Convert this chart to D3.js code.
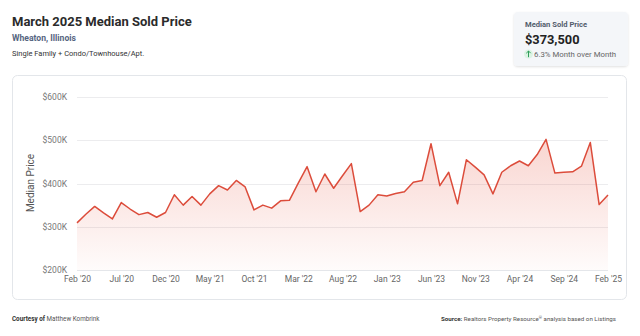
<!DOCTYPE html>
<html>
<head>
<meta charset="utf-8">
<script src="https://cdn.jsdelivr.net/npm/d3@7"></script>
<style>
  html, body { margin: 0; padding: 0; background: #fff; }
  svg { display: block; font-family: Roboto, "Noto Sans", sans-serif; }
</style>
</head>
<body>
<svg id="chart" width="640" height="336"></svg>
<script>
// Monthly median sold price, Wheaton IL (thousands of dollars)
const months = [
  "Feb '20","Mar '20","Apr '20","May '20","Jun '20","Jul '20","Aug '20","Sep '20","Oct '20","Nov '20",
  "Dec '20","Jan '21","Feb '21","Mar '21","Apr '21","May '21","Jun '21","Jul '21","Aug '21","Sep '21",
  "Oct '21","Nov '21","Dec '21","Jan '22","Feb '22","Mar '22","Apr '22","May '22","Jun '22","Jul '22",
  "Aug '22","Sep '22","Oct '22","Nov '22","Dec '22","Jan '23","Feb '23","Mar '23","Apr '23","May '23",
  "Jun '23","Jul '23","Aug '23","Sep '23","Oct '23","Nov '23","Dec '23","Jan '24","Feb '24","Mar '24",
  "Apr '24","May '24","Jun '24","Jul '24","Aug '24","Sep '24","Oct '24","Nov '24","Dec '24","Jan '25",
  "Feb '25"
];
const medianPrice = [
  309, 329, 347, 332, 318, 356, 341, 328, 333, 322,
  333, 374, 350, 370, 350, 376, 395, 385, 407, 392,
  339, 350, 343, 360, 361, 401, 439, 381, 422, 389,
  418, 446, 335, 350, 374, 371, 377, 381, 403, 407,
  492, 395, 426, 353, 455, 438, 420, 376, 426, 441,
  452, 441, 467, 502, 424, 426, 427, 440, 495, 351.4,
  373.5
];
const xTickLabels = ["Feb '20","Jul '20","Dec '20","May '21","Oct '21","Mar '22","Aug '22",
                     "Jan '23","Jun '23","Nov '23","Apr '24","Sep '24","Feb '25"];
const yTicks = [200, 300, 400, 500, 600];

const svg = d3.select("#chart");

// ---- header ----
svg.append("text").attr("x", 12).attr("y", 26)
  .attr("font-size", 13).attr("font-weight", 700).attr("fill", "#2b2b2b")
  .text("March 2025 Median Sold Price");
svg.append("text").attr("x", 12).attr("y", 41)
  .attr("font-size", 8.6).attr("font-weight", 700).attr("fill", "#56657f")
  .text("Wheaton, Illinois");
svg.append("text").attr("x", 12).attr("y", 55.5)
  .attr("font-size", 7.5).attr("fill", "#333")
  .text("Single Family + Condo/Townhouse/Apt.");

// ---- KPI card ----
const defs = svg.append("defs");
const shadow = defs.append("filter").attr("id", "kpiShadow")
  .attr("x", "-10%").attr("y", "-20%").attr("width", "120%").attr("height", "150%");
shadow.append("feDropShadow").attr("dx", 0).attr("dy", 1).attr("stdDeviation", 1.2)
  .attr("flood-color", "#000").attr("flood-opacity", 0.12);

const kpi = svg.append("g");
kpi.append("rect").attr("x", 514).attr("y", 12).attr("width", 114).attr("height", 54)
  .attr("rx", 4).attr("fill", "#f4f6f9").attr("filter", "url(#kpiShadow)");
kpi.append("text").attr("x", 525).attr("y", 27)
  .attr("font-size", 7.6).attr("font-weight", 700).attr("fill", "#525c6c")
  .text("Median Sold Price");
kpi.append("text").attr("x", 525).attr("y", 43.5)
  .attr("font-size", 12.8).attr("font-weight", 700).attr("fill", "#222")
  .text("$373,500");
kpi.append("circle").attr("cx", 528.5).attr("cy", 54).attr("r", 4.5).attr("fill", "#dcf3e4");
kpi.append("path").attr("d", "M528.5,57.2 L528.5,51 M526.3,53.2 L528.5,51 L530.7,53.2")
  .attr("stroke", "#2f9e5a").attr("stroke-width", 1).attr("fill", "none");
kpi.append("text").attr("x", 534).attr("y", 57)
  .attr("font-size", 7.8).attr("fill", "#666")
  .text("6.3% Month over Month");

// ---- chart card ----
svg.append("rect").attr("x", 12.5).attr("y", 75.5).attr("width", 614).attr("height", 224)
  .attr("rx", 5).attr("fill", "#fff").attr("stroke", "#e3e6ea");

// ---- scales ----
const plotLeft = 77, plotRight = 608, plotTop = 97, plotBottom = 270;
const x = d3.scalePoint().domain(months).range([plotLeft, plotRight]);
const y = d3.scaleLinear().domain([200, 600]).range([plotBottom, plotTop]);

// gridlines
svg.append("g").selectAll("line").data(yTicks).join("line")
  .attr("x1", plotLeft).attr("x2", plotRight)
  .attr("y1", d => Math.round(y(d)) + 0.5).attr("y2", d => Math.round(y(d)) + 0.5)
  .attr("stroke", d => d === 200 ? "#e4e6ea" : "#ececee").attr("stroke-width", 1);

// y axis labels
const yAxis = d3.axisLeft(y).tickValues(yTicks).tickSize(0).tickPadding(0)
  .tickFormat(d => "$" + d + "K");
svg.append("g").attr("transform", `translate(67,0)`).call(yAxis)
  .call(g => g.select(".domain").remove())
  .call(g => g.selectAll("text").attr("font-size", 8.5).attr("fill", "#777")
    .attr("font-family", "Roboto, sans-serif"));

// x axis labels
const xAxis = d3.axisBottom(x).tickValues(xTickLabels).tickSize(0).tickPadding(0);
svg.append("g").attr("transform", `translate(0,276)`).call(xAxis)
  .call(g => g.select(".domain").remove())
  .call(g => g.selectAll("text").attr("font-size", 8.5).attr("fill", "#666")
    .attr("font-family", "Roboto, sans-serif"));

// y axis title
svg.append("text")
  .attr("transform", "translate(34,183) rotate(-90)")
  .attr("text-anchor", "middle").attr("font-size", 10).attr("fill", "#555")
  .text("Median Price");

// ---- area + line ----
const grad = defs.append("linearGradient").attr("id", "areaFill")
  .attr("gradientUnits", "userSpaceOnUse")
  .attr("x1", 0).attr("x2", 0).attr("y1", y(500)).attr("y2", plotBottom);
grad.append("stop").attr("offset", 0).attr("stop-color", "#e5533f").attr("stop-opacity", 0.24);
grad.append("stop").attr("offset", 1).attr("stop-color", "#e5533f").attr("stop-opacity", 0.02);

const series = months.map((m, i) => ({ m, v: medianPrice[i] }));

svg.append("path").datum(series)
  .attr("fill", "url(#areaFill)")
  .attr("d", d3.area().x(d => x(d.m)).y0(plotBottom).y1(d => y(d.v)));

svg.append("path").datum(series)
  .attr("fill", "none").attr("stroke", "#dc4c3b").attr("stroke-width", 1.5)
  .attr("stroke-linejoin", "round")
  .attr("d", d3.line().x(d => x(d.m)).y(d => y(d.v)));

// ---- footer ----
const left = svg.append("text").attr("x", 12).attr("y", 321).attr("font-size", 6.3).attr("fill", "#333");
left.append("tspan").attr("font-weight", 700).text("Courtesy of ");
left.append("tspan").attr("fill", "#555").text("Matthew Kombrink");

const right = svg.append("text").attr("x", 616).attr("y", 321).attr("text-anchor", "end")
  .attr("font-size", 6.2).attr("fill", "#333");
right.append("tspan").attr("font-weight", 700).text("Source: ");
right.append("tspan").attr("fill", "#555").text("Realtors Property Resource");
right.append("tspan").attr("fill", "#555").attr("font-size", 4).attr("dy", -2.3).text("®");
right.append("tspan").attr("fill", "#555").attr("dy", 2.3).text(" analysis based on Listings");
</script>
</body>
</html>
